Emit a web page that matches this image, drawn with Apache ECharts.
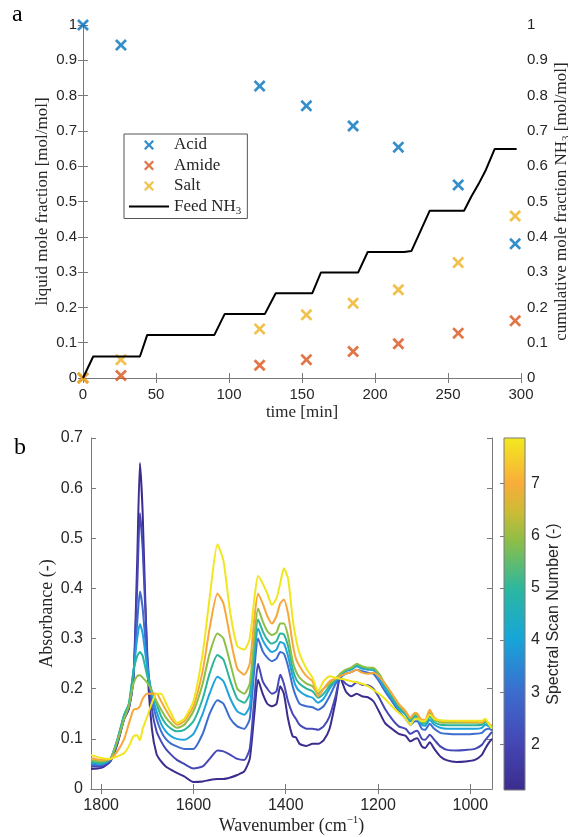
<!DOCTYPE html>
<html>
<head>
<meta charset="utf-8">
<script src="https://cdn.jsdelivr.net/npm/echarts@6/dist/echarts.min.js"></script>
<style>
html,body{margin:0;padding:0;background:#fff;}
#chart{width:568px;height:837px;}
</style>
</head>
<body>
<div id="chart"></div>
<script>
// ---------- Panel a data ----------
const timeMin = [0, 26, 121, 153, 185, 216, 257, 296];
const acid    = [1.0, 0.943, 0.827, 0.771, 0.714, 0.654, 0.547, 0.380];
const amide   = [0, 0.007, 0.036, 0.052, 0.075, 0.097, 0.127, 0.162];
const salt    = [0, 0.052, 0.139, 0.179, 0.212, 0.250, 0.327, 0.459];
const feedTime = [0, 7, 39, 44, 90, 97, 124.5, 132, 157, 163, 188.5, 195, 220, 225, 237.5, 261, 266, 271, 276, 282, 297];
const feedNH3  = [0, 0.061, 0.061, 0.122, 0.122, 0.181, 0.181, 0.240, 0.240, 0.299, 0.299, 0.357, 0.357, 0.360, 0.474, 0.474, 0.514, 0.550, 0.590, 0.649, 0.649];
const timeTicks = [0, 50, 100, 150, 200, 250, 300];

// ---------- Panel b data ----------
const wavenumber = [1822,1800,1780,1765,1750,1740,1730,1722,1716,1710,1700,1690,1680,1670,1660,1648,1636,1620,1600,1580,1565,1548,1535,1520,1505,1490,1478,1468,1460,1450,1440,1430,1420,1412,1404,1395,1385,1378,1370,1355,1342,1330,1318,1305,1292,1282,1270,1258,1246,1235,1222,1210,1198,1185,1170,1155,1140,1130,1120,1115,1105,1098,1088,1078,1065,1050,1030,1010,990,975,968,960,953];
const scan1 = [0.040,0.042,0.055,0.090,0.140,0.160,0.220,0.450,0.650,0.550,0.250,0.120,0.070,0.055,0.045,0.038,0.032,0.025,0.014,0.015,0.018,0.020,0.020,0.023,0.028,0.035,0.060,0.150,0.218,0.190,0.170,0.165,0.170,0.205,0.190,0.140,0.105,0.103,0.090,0.086,0.090,0.090,0.097,0.120,0.175,0.222,0.195,0.185,0.190,0.185,0.183,0.175,0.155,0.132,0.120,0.110,0.106,0.095,0.100,0.101,0.085,0.082,0.093,0.080,0.065,0.057,0.054,0.055,0.058,0.068,0.080,0.092,0.100];
const scan2 = [0.045,0.045,0.056,0.090,0.140,0.160,0.220,0.400,0.550,0.480,0.270,0.160,0.115,0.095,0.080,0.068,0.058,0.050,0.041,0.045,0.060,0.077,0.075,0.068,0.060,0.058,0.080,0.180,0.250,0.215,0.200,0.190,0.195,0.228,0.210,0.175,0.150,0.140,0.128,0.120,0.120,0.118,0.125,0.145,0.185,0.222,0.210,0.205,0.213,0.208,0.207,0.200,0.183,0.160,0.140,0.125,0.120,0.110,0.115,0.116,0.100,0.098,0.108,0.098,0.085,0.078,0.077,0.078,0.080,0.088,0.097,0.106,0.114];
const scan3 = [0.048,0.048,0.058,0.095,0.145,0.165,0.230,0.330,0.394,0.360,0.250,0.180,0.140,0.115,0.100,0.090,0.085,0.080,0.080,0.110,0.150,0.177,0.170,0.140,0.125,0.120,0.140,0.240,0.300,0.275,0.262,0.255,0.260,0.273,0.270,0.245,0.205,0.185,0.170,0.165,0.163,0.158,0.165,0.185,0.210,0.222,0.230,0.233,0.238,0.235,0.232,0.230,0.215,0.195,0.175,0.155,0.140,0.128,0.135,0.135,0.120,0.118,0.130,0.120,0.112,0.110,0.109,0.109,0.110,0.112,0.118,0.120,0.117];
const scan4 = [0.052,0.050,0.060,0.098,0.148,0.168,0.235,0.300,0.329,0.310,0.240,0.190,0.155,0.130,0.115,0.105,0.100,0.098,0.110,0.150,0.190,0.224,0.215,0.180,0.155,0.148,0.165,0.265,0.320,0.297,0.282,0.273,0.278,0.293,0.290,0.265,0.225,0.205,0.195,0.186,0.182,0.172,0.180,0.200,0.215,0.225,0.235,0.238,0.245,0.240,0.238,0.237,0.222,0.200,0.180,0.160,0.148,0.135,0.142,0.140,0.128,0.126,0.138,0.128,0.122,0.120,0.120,0.120,0.120,0.122,0.128,0.125,0.120];
const scan5 = [0.055,0.052,0.060,0.098,0.148,0.170,0.235,0.265,0.273,0.265,0.225,0.195,0.170,0.145,0.130,0.120,0.115,0.118,0.135,0.180,0.230,0.267,0.258,0.215,0.180,0.172,0.190,0.285,0.338,0.315,0.298,0.290,0.295,0.310,0.308,0.285,0.240,0.220,0.210,0.200,0.195,0.182,0.190,0.205,0.218,0.228,0.237,0.240,0.248,0.243,0.240,0.240,0.228,0.206,0.185,0.163,0.150,0.138,0.146,0.144,0.132,0.130,0.145,0.133,0.128,0.127,0.127,0.127,0.127,0.128,0.133,0.128,0.122];
const scan6 = [0.058,0.055,0.060,0.095,0.140,0.165,0.210,0.225,0.227,0.222,0.212,0.195,0.175,0.158,0.143,0.130,0.122,0.128,0.155,0.210,0.270,0.310,0.300,0.250,0.200,0.190,0.210,0.305,0.360,0.335,0.315,0.307,0.312,0.330,0.330,0.305,0.255,0.235,0.222,0.210,0.205,0.190,0.200,0.210,0.220,0.230,0.238,0.242,0.250,0.245,0.242,0.242,0.230,0.210,0.190,0.168,0.153,0.140,0.150,0.148,0.135,0.134,0.152,0.138,0.133,0.132,0.132,0.132,0.132,0.132,0.137,0.130,0.124];
const scan7 = [0.062,0.058,0.060,0.075,0.100,0.130,0.158,0.160,0.165,0.180,0.190,0.190,0.190,0.175,0.158,0.140,0.128,0.135,0.165,0.235,0.320,0.390,0.370,0.300,0.240,0.228,0.250,0.340,0.390,0.370,0.345,0.330,0.345,0.370,0.378,0.350,0.290,0.260,0.245,0.225,0.215,0.185,0.200,0.215,0.220,0.225,0.230,0.233,0.238,0.232,0.230,0.232,0.225,0.210,0.190,0.170,0.155,0.142,0.152,0.150,0.138,0.138,0.158,0.142,0.136,0.135,0.135,0.134,0.134,0.133,0.138,0.130,0.125];
const scan8 = [0.068,0.062,0.060,0.065,0.072,0.085,0.105,0.107,0.097,0.120,0.145,0.172,0.190,0.190,0.172,0.150,0.132,0.140,0.175,0.270,0.380,0.488,0.455,0.350,0.285,0.278,0.300,0.380,0.425,0.410,0.390,0.367,0.380,0.410,0.440,0.420,0.340,0.300,0.270,0.240,0.222,0.195,0.215,0.225,0.222,0.220,0.218,0.215,0.213,0.210,0.205,0.198,0.190,0.180,0.165,0.152,0.140,0.128,0.140,0.140,0.135,0.136,0.148,0.140,0.137,0.136,0.136,0.136,0.136,0.136,0.140,0.130,0.120];
const spectra = [scan1, scan2, scan3, scan4, scan5, scan6, scan7, scan8];
const scanNumber = [1, 2, 3, 4, 5, 6, 7, 8];
const wnTicks = [1800, 1600, 1400, 1200, 1000];
const cbTicks = [2, 3, 4, 5, 6, 7];
const cbMin = 1.125, cbMax = 7.875;

// ---------- styles ----------
const scanColors = ['#3b2c8e','#4548b6','#3c6dcf','#1fa3dc','#2bb59c','#8dbe48','#f8a83a','#f1e61e'];
const cbStops = [
  {offset:0, color:'#3b2c8e'},{offset:0.14, color:'#4548b6'},{offset:0.28, color:'#3c6dcf'},
  {offset:0.43, color:'#16a6d8'},{offset:0.57, color:'#2bb7a0'},{offset:0.71, color:'#8fbe46'},
  {offset:0.79, color:'#cdbb35'},{offset:0.87, color:'#f8ad3a'},{offset:1, color:'#f2ea1e'}];
const axisCol = '#7a7a7a', txtCol = '#262626';
const serif = 'Liberation Serif', sans = 'Liberation Sans';
const xMark = 'path://M1.6,0 L5,3.4 L8.4,0 L10,1.6 L6.6,5 L10,8.4 L8.4,10 L5,6.6 L1.6,10 L0,8.4 L3.4,5 L0,1.6 Z';
const xIcon = 'path://M0,5 L0.01,5 L0,5.01 Z M40,5 L39.99,5 L40,5.01 Z M16.6,0 L20,3.4 L23.4,0 L25,1.6 L21.6,5 L25,8.4 L23.4,10 L20,6.6 L16.6,10 L15,8.4 L18.4,5 L15,1.6 Z';
const lineIcon = 'path://M0,4 L40,4 L40,6 L0,6 Z';

function zip(xs, ys){ return xs.map((x,i)=>[x, ys[i]]); }

const tickBase = (extra) => Object.assign({
  nameMoveOverlap:false,
  axisLine:{show:true, lineStyle:{color:axisCol, width:1}},
  axisTick:{show:true, inside:true, length:5, lineStyle:{color:axisCol}},
  splitLine:{show:false},
  axisLabel:{color:txtCol, fontFamily:sans}
}, extra);

const chart = echarts.init(document.getElementById('chart'), null, {renderer:'canvas'});
const option = {
  animation:false,
  backgroundColor:'#ffffff',
  title:[
    {text:'a', left:12, top:3, padding:0, textStyle:{fontFamily:serif, fontSize:24, fontWeight:'normal', color:'#000'}},
    {text:'b', left:14, top:436, padding:0, textStyle:{fontFamily:serif, fontSize:24, fontWeight:'normal', color:'#000'}}
  ],
  grid:[
    {left:83, top:25, width:438, height:353, outerBoundsMode:'none', containLabel:false},
    {left:91, top:438, width:401, height:351, outerBoundsMode:'none', containLabel:false},
    {left:504, top:438, width:21, height:352, outerBoundsMode:'none', containLabel:false}
  ],
  legend:{
    orient:'vertical', left:124, top:134, padding:[1,6,2,5], itemGap:0.5,
    itemWidth:40, itemHeight:11, backgroundColor:'#fff',
    borderColor:'#555', borderWidth:1, borderRadius:0,
    data:[{name:'Acid', icon:xIcon},{name:'Amide', icon:xIcon},{name:'Salt', icon:xIcon},{name:'Feed NH3', icon:lineIcon}],
    formatter: n => n === 'Feed NH3' ? '{a|Feed NH}{s|3}' : '{a|' + n + '}',
    textStyle:{color:txtCol, lineHeight:20, rich:{
      a:{fontFamily:serif, fontSize:17, color:txtCol, lineHeight:20, verticalAlign:'middle'},
      s:{fontFamily:serif, fontSize:11, color:txtCol, lineHeight:11, verticalAlign:'bottom'}
    }}
  },
  xAxis:[
    tickBase({gridIndex:0, type:'value', min:0, max:300, interval:50, position:'bottom',
      name:'time [min]', nameLocation:'middle', nameGap:26,
      nameTextStyle:{fontFamily:serif, fontSize:17, color:txtCol},
      axisLabel:{color:txtCol, fontFamily:sans, fontSize:15, margin:9}}),
    tickBase({gridIndex:0, type:'value', min:0, max:300, interval:50, position:'top', axisLabel:{show:false}}),
    tickBase({gridIndex:1, type:'value', inverse:true, min:953, max:1822, position:'bottom',
      name:'{a|Wavenumber (cm}{p|−1}{a|)}', nameLocation:'middle', nameGap:26,
      nameTextStyle:{rich:{
        a:{fontFamily:serif, fontSize:18, color:txtCol, lineHeight:22, verticalAlign:'middle'},
        p:{fontFamily:serif, fontSize:11, color:txtCol, lineHeight:11, verticalAlign:'top'}}},
      axisTick:{show:true, inside:true, length:5, lineStyle:{color:axisCol}, customValues:wnTicks},
      axisLabel:{color:txtCol, fontFamily:sans, fontSize:16, margin:9, customValues:wnTicks, formatter: v => String(v)}}),
    tickBase({gridIndex:1, type:'value', inverse:true, min:953, max:1822, position:'top',
      axisTick:{show:true, inside:true, length:5, lineStyle:{color:axisCol}, customValues:wnTicks},
      axisLabel:{show:false}}),
    {gridIndex:2, type:'value', min:0, max:1, show:false}
  ],
  yAxis:[
    tickBase({gridIndex:0, type:'value', min:0, max:1, interval:0.1, position:'left',
      name:'liquid mole fraction [mol/mol]', nameLocation:'middle', nameGap:32,
      nameTextStyle:{fontFamily:serif, fontSize:17, color:txtCol},
      axisLabel:{color:txtCol, fontFamily:sans, fontSize:15, margin:6}}),
    tickBase({gridIndex:0, type:'value', min:0, max:1, interval:0.1, position:'right',
      name:'{a|cumulative mole fraction NH}{s|3}{a| [mol/mol]}', nameLocation:'middle', nameGap:31,
      nameTextStyle:{rich:{
        a:{fontFamily:serif, fontSize:17, color:txtCol, lineHeight:20, verticalAlign:'middle'},
        s:{fontFamily:serif, fontSize:11, color:txtCol, lineHeight:11, verticalAlign:'bottom'}}},
      axisLabel:{color:txtCol, fontFamily:sans, fontSize:15, margin:6}}),
    tickBase({gridIndex:1, type:'value', min:0, max:0.7, interval:0.1, position:'left',
      name:'Absorbance (-)', nameLocation:'middle', nameGap:35,
      nameTextStyle:{fontFamily:serif, fontSize:18, color:txtCol},
      axisLabel:{color:txtCol, fontFamily:sans, fontSize:16, margin:8}}),
    tickBase({gridIndex:1, type:'value', min:0, max:0.7, interval:0.1, position:'right', axisLabel:{show:false}}),
    {gridIndex:2, type:'value', min:cbMin, max:cbMax, position:'right', nameMoveOverlap:false,
      axisLine:{show:false}, splitLine:{show:false},
      axisTick:{show:true, inside:true, length:4, lineStyle:{color:axisCol}, customValues:cbTicks},
      axisLabel:{color:txtCol, fontFamily:sans, fontSize:16, margin:6, customValues:cbTicks},
      name:'Spectral Scan Number (-)', nameLocation:'middle', nameGap:21,
      nameTextStyle:{fontFamily:sans, fontSize:16, color:txtCol}}
  ],
  series:[]
};

const scatterDefs = [['Acid', acid, '#0072BD'], ['Amide', amide, '#D95319'], ['Salt', salt, '#EDB120']];
scatterDefs.forEach(([name, vals, col]) => {
  option.series.push({name, type:'scatter', xAxisIndex:0, yAxisIndex:0, symbol:xMark, symbolSize:12,
    itemStyle:{color:col}, data:zip(timeMin, vals), z:3});
});
option.series.push({name:'Feed NH3', type:'line', xAxisIndex:0, yAxisIndex:1, showSymbol:false, symbol:'none',
  lineStyle:{color:'#000', width:2}, itemStyle:{color:'#000'}, data:zip(feedTime, feedNH3), z:4});

spectra.forEach((vals, k) => {
  option.series.push({name:'Scan ' + scanNumber[k], type:'line', xAxisIndex:2, yAxisIndex:2,
    showSymbol:false, symbol:'none', smooth:0.2,
    lineStyle:{color:scanColors[k], width:2}, data:zip(wavenumber, vals), z:2 + k*0.01});
});

option.series.push({name:'colorbar', type:'custom', xAxisIndex:4, yAxisIndex:4, silent:true,
  data:[[0, cbMin, cbMax]],
  renderItem:(params, api) => {
    const lo = api.coord([0, api.value(1)]);
    const hi = api.coord([1, api.value(2)]);
    return {type:'rect', shape:{x:lo[0], y:hi[1], width:hi[0]-lo[0], height:lo[1]-hi[1]},
      style:{fill:new echarts.graphic.LinearGradient(0,1,0,0, cbStops), stroke:axisCol, lineWidth:1}};
  }});

chart.setOption(option);
</script>
</body>
</html>
